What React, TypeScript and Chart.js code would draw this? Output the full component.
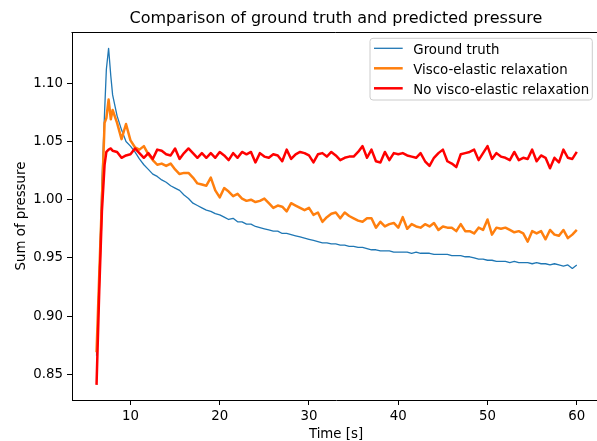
import React, { useEffect, useRef } from "react";
import { Chart, registerables } from "chart.js";

Chart.register(...registerables);

// ---- data ----
const times = [
  6.2, 6.5, 6.8, 7.1, 7.3, 7.55, 7.8,
  8.0, 8.5, 9.0, 9.5, 10.0, 10.5, 11.0, 11.5, 12.0, 12.5,
  13.0, 13.5, 14.0, 14.5, 15.0, 15.5, 16.0, 16.5, 17.0, 17.5,
  18.0, 18.5, 19.0, 19.5, 20.0, 20.5, 21.0, 21.5, 22.0, 22.5,
  23.0, 23.5, 24.0, 24.5, 25.0, 25.5, 26.0, 26.5, 27.0, 27.5,
  28.0, 28.5, 29.0, 29.5, 30.0, 30.5, 31.0, 31.5, 32.0, 32.5,
  33.0, 33.5, 34.0, 34.5, 35.0, 35.5, 36.0, 36.5, 37.0, 37.5,
  38.0, 38.5, 39.0, 39.5, 40.0, 40.5, 41.0, 41.5, 42.0, 42.5,
  43.0, 43.5, 44.0, 44.5, 45.0, 45.5, 46.0, 46.5, 47.0, 47.5,
  48.0, 48.5, 49.0, 49.5, 50.0, 50.5, 51.0, 51.5, 52.0, 52.5,
  53.0, 53.5, 54.0, 54.5, 55.0, 55.5, 56.0, 56.5, 57.0, 57.5,
  58.0, 58.5, 59.0, 59.5, 60.0,
];

const groundTruth = [
  0.866, 0.933, 1.015, 1.075, 1.112, 1.130, 1.106,
  1.090, 1.072, 1.060, 1.050, 1.046, 1.041, 1.035, 1.030, 1.026, 1.022,
  1.020, 1.017, 1.015, 1.012, 1.010, 1.008, 1.004, 1.001, 0.997, 0.995,
  0.993, 0.991, 0.990, 0.988, 0.987, 0.985, 0.983, 0.984, 0.981, 0.981,
  0.979, 0.979, 0.977, 0.976, 0.975, 0.974, 0.973, 0.973, 0.971, 0.971,
  0.970, 0.969, 0.968, 0.967, 0.966, 0.965, 0.964, 0.963, 0.963, 0.962,
  0.962, 0.961, 0.961, 0.960, 0.960, 0.959, 0.959, 0.958, 0.957, 0.957,
  0.956, 0.956, 0.956, 0.955, 0.955, 0.955, 0.955, 0.954, 0.955, 0.954,
  0.954, 0.954, 0.953, 0.953, 0.953, 0.953, 0.952, 0.952, 0.952, 0.951,
  0.951, 0.950, 0.949, 0.949, 0.948, 0.948, 0.947, 0.947, 0.947, 0.946,
  0.947, 0.946, 0.946, 0.946, 0.945, 0.946, 0.945, 0.945, 0.944, 0.945,
  0.944, 0.943, 0.944, 0.941, 0.944,
];

const viscoElastic = [
  0.869, 0.935, 1.000, 1.066, 1.070, 1.086, 1.069,
  1.077, 1.066, 1.052, 1.065, 1.051, 1.045, 1.043, 1.046, 1.039, 1.034,
  1.030, 1.031, 1.029, 1.031, 1.026, 1.022, 1.023, 1.023, 1.019, 1.014,
  1.013, 1.012, 1.019, 1.008, 1.002, 1.010, 1.007, 1.003, 1.005, 1.001,
  0.999, 1.000, 0.998, 0.999, 1.001, 0.997, 0.993, 0.995, 0.994, 0.990,
  0.997, 0.995, 0.993, 0.991, 0.993, 0.987, 0.989, 0.981, 0.985, 0.988,
  0.989, 0.984, 0.989, 0.986, 0.984, 0.982, 0.981, 0.984, 0.984, 0.976,
  0.981, 0.977, 0.979, 0.980, 0.976, 0.985, 0.975, 0.979, 0.977, 0.976,
  0.979, 0.977, 0.980, 0.974, 0.977, 0.976, 0.976, 0.973, 0.979, 0.973,
  0.973, 0.971, 0.976, 0.974, 0.983, 0.970, 0.976, 0.975, 0.976, 0.974,
  0.972, 0.973, 0.971, 0.964, 0.973, 0.971, 0.973, 0.966, 0.974, 0.970,
  0.969, 0.974, 0.967, 0.970, 0.974,
];

const noViscoElastic = [
  0.841, 0.921, 0.990, 1.030, 1.041, 1.043, 1.044,
  1.042, 1.041, 1.036, 1.038, 1.039, 1.044, 1.040, 1.036, 1.040, 1.035,
  1.043, 1.042, 1.039, 1.038, 1.044, 1.035, 1.040, 1.044, 1.040, 1.036,
  1.040, 1.036, 1.040, 1.036, 1.041, 1.038, 1.034, 1.040, 1.036, 1.041,
  1.039, 1.041, 1.032, 1.040, 1.037, 1.036, 1.039, 1.038, 1.033, 1.043,
  1.035, 1.039, 1.041, 1.040, 1.038, 1.032, 1.039, 1.040, 1.037, 1.041,
  1.038, 1.034, 1.036, 1.037, 1.037, 1.041, 1.046, 1.036, 1.043, 1.033,
  1.032, 1.041, 1.034, 1.040, 1.039, 1.040, 1.038, 1.037, 1.036, 1.040,
  1.033, 1.029, 1.036, 1.040, 1.043, 1.033, 1.031, 1.028, 1.039, 1.040,
  1.041, 1.043, 1.034, 1.040, 1.046, 1.035, 1.040, 1.037, 1.036, 1.034,
  1.041, 1.034, 1.036, 1.035, 1.043, 1.033, 1.038, 1.036, 1.027, 1.036,
  1.032, 1.043, 1.036, 1.035, 1.041,
];

const seriesNames = ["Ground truth", "Visco-elastic relaxation", "No visco-elastic relaxation"];
const xTicks = [10, 20, 30, 40, 50, 60];
const yTicks = [0.85, 0.9, 0.95, 1.0, 1.05, 1.1];
const titleText = "Comparison of ground truth and predicted pressure";
const xLabel = "Time [s]";
const yLabel = "Sum of pressure";

// ---- styling ----
const COLORS = ["#1f77b4", "#ff7f0e", "#ff0000"];
const WIDTHS = [1.3, 2.5, 2.5];
const FONT = '"DejaVu Sans"';
const CW = 612;
const CH = 441;
const PLOT_LEFT = 72;
const PLOT_TOP = 32;
const PLOT_RIGHT = 600;
const PLOT_BOTTOM = 400;

export default function App() {
  const ref = useRef<HTMLCanvasElement>(null);

  useEffect(() => {
    const canvas = ref.current;
    if (!canvas) return;
    const series = [groundTruth, viscoElastic, noViscoElastic];

    const decor = {
      id: "decor",
      afterDraw(chart: any) {
        const { ctx, chartArea } = chart;
        ctx.save();
        // top spine
        ctx.strokeStyle = "#000";
        ctx.lineWidth = 1;
        ctx.beginPath();
        ctx.moveTo(chartArea.left - 0.5, chartArea.top + 0.5);
        ctx.lineTo(chartArea.right, chartArea.top + 0.5);
        ctx.stroke();

        ctx.fillStyle = "#000";
        // title
        ctx.font = `16px ${FONT}`;
        ctx.textAlign = "center";
        ctx.textBaseline = "alphabetic";
        ctx.fillText(titleText, (chartArea.left + chartArea.right) / 2, 22.7);
        // x label
        ctx.font = `13.33px ${FONT}`;
        ctx.fillText(xLabel, (chartArea.left + chartArea.right) / 2, 438);
        // y label
        ctx.save();
        ctx.translate(24.7, (chartArea.top + chartArea.bottom) / 2);
        ctx.rotate(-Math.PI / 2);
        ctx.fillText(yLabel, 0, 0);
        ctx.restore();

        // legend
        const bx = 370, by = 38.3, bw = 222.3, bh = 61.7, r = 3;
        ctx.beginPath();
        ctx.moveTo(bx + r, by);
        ctx.lineTo(bx + bw - r, by);
        ctx.arcTo(bx + bw, by, bx + bw, by + r, r);
        ctx.lineTo(bx + bw, by + bh - r);
        ctx.arcTo(bx + bw, by + bh, bx + bw - r, by + bh, r);
        ctx.lineTo(bx + r, by + bh);
        ctx.arcTo(bx, by + bh, bx, by + bh - r, r);
        ctx.lineTo(bx, by + r);
        ctx.arcTo(bx, by, bx + r, by, r);
        ctx.closePath();
        ctx.fillStyle = "rgba(255,255,255,0.8)";
        ctx.fill();
        ctx.strokeStyle = "#cccccc";
        ctx.lineWidth = 1;
        ctx.stroke();

        ctx.textAlign = "left";
        ctx.textBaseline = "alphabetic";
        ctx.font = `13.33px ${FONT}`;
        seriesNames.forEach((name, i) => {
          const yy = 48.3 + i * 20;
          ctx.strokeStyle = COLORS[i];
          ctx.lineWidth = WIDTHS[i];
          ctx.beginPath();
          ctx.moveTo(374, yy);
          ctx.lineTo(402.7, yy);
          ctx.stroke();
          ctx.fillStyle = "#000";
          ctx.fillText(name, 413.3, yy + 5.2);
        });
        ctx.restore();
      },
    };

    const chart = new Chart(canvas, {
      type: "line",
      data: {
        datasets: series.map((vals, i) => ({
          label: seriesNames[i],
          data: times.map((t, k) => ({ x: t, y: vals[k] })),
          borderColor: COLORS[i],
          backgroundColor: COLORS[i],
          borderWidth: WIDTHS[i],
          pointRadius: 0,
          tension: 0,
          fill: false,
          borderJoinStyle: "round" as const,
          order: 2 - i,
        })),
      },
      options: {
        responsive: false,
        animation: false,
        devicePixelRatio: 1,
        layout: {
          padding: { top: PLOT_TOP, left: 0, right: CW - PLOT_RIGHT, bottom: 0 },
        },
        plugins: {
          legend: { display: false },
          title: { display: false },
          tooltip: { enabled: false },
        },
        scales: {
          x: {
            type: "linear",
            min: 3.45,
            max: 62.6,
            afterFit: (s: any) => {
              s.height = CH - PLOT_BOTTOM;
              s.paddingLeft = 0;
              s.paddingRight = 0;
            },
            afterBuildTicks: (s: any) => {
              s.ticks = xTicks.map((v) => ({ value: v }));
            },
            grid: {
              display: true,
              drawOnChartArea: false,
              drawTicks: true,
              tickLength: 5,
              color: "#000",
              tickColor: "#000",
              lineWidth: 1,
            },
            border: { display: true, color: "#000", width: 1 },
            ticks: {
              color: "#000",
              font: { family: "DejaVu Sans", size: 13.33 },
              padding: 4,
              maxRotation: 0,
              autoSkip: false,
              callback: (v: any) => String(v),
            },
          },
          y: {
            type: "linear",
            min: 0.828,
            max: 1.144,
            afterFit: (s: any) => {
              s.width = PLOT_LEFT;
              s.paddingTop = 0;
              s.paddingBottom = 0;
            },
            afterBuildTicks: (s: any) => {
              s.ticks = yTicks.map((v) => ({ value: v }));
            },
            grid: {
              display: true,
              drawOnChartArea: false,
              drawTicks: true,
              tickLength: 5,
              color: "#000",
              tickColor: "#000",
              lineWidth: 1,
            },
            border: { display: true, color: "#000", width: 1 },
            ticks: {
              color: "#000",
              font: { family: "DejaVu Sans", size: 13.33 },
              padding: 4,
              autoSkip: false,
              callback: (v: any) => Number(v).toFixed(2),
            },
          },
        },
      },
      plugins: [decor],
    });

    return () => chart.destroy();
  }, []);

  return (
    <div style={{ position: "fixed", left: 0, top: 0, width: CW, height: CH, background: "#fff" }}>
      <canvas ref={ref} width={CW} height={CH} style={{ width: CW, height: CH, display: "block" }} />
    </div>
  );
}
